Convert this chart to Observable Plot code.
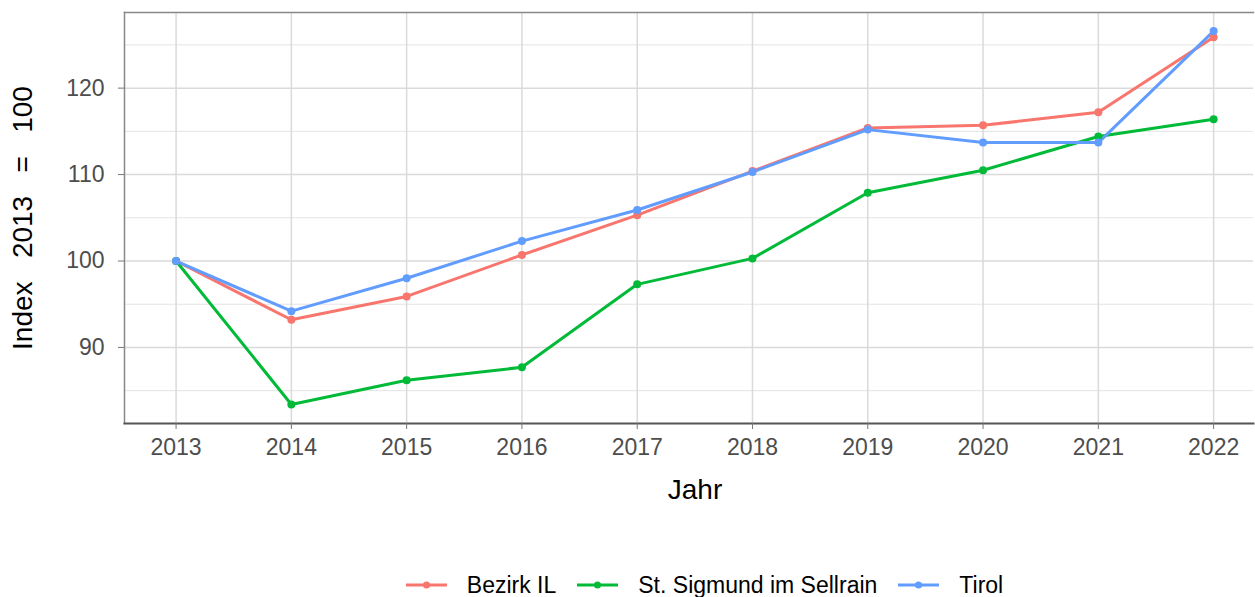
<!DOCTYPE html>
<html>
<head>
<meta charset="utf-8">
<script src="https://cdn.jsdelivr.net/npm/d3@7"></script>
<script src="https://cdn.jsdelivr.net/npm/@observablehq/plot@0.6"></script>
<style>
  html, body { margin: 0; padding: 0; background: white; }
  body { width: 1255px; height: 597px; overflow: hidden; font-family: "Liberation Sans", Arial, sans-serif; }
  #legend { display: flex; justify-content: center; align-items: center; height: 50px; padding-left: 175px; box-sizing: border-box; width: 1255px; }
  .item { display: flex; align-items: center; font-size: 23px; color: #000; }
  .item svg { margin-right: 20px; }
  .item span { margin-right: 21px; }
</style>
</head>
<body>
<div id="chart"></div>
<div id="legend"></div>
<script>
const years = [2013, 2014, 2015, 2016, 2017, 2018, 2019, 2020, 2021, 2022];
const series = ["Bezirk IL", "St. Sigmund im Sellrain", "Tirol"];
const colors = ["#F8766D", "#00BA38", "#619CFF"];
const bezirk  = [100, 93.2, 95.9, 100.7, 105.3, 110.4, 115.4, 115.7, 117.2, 125.9];
const sigmund = [100, 83.4, 86.2, 87.7, 97.3, 100.3, 107.9, 110.5, 114.4, 116.4];
const tirol   = [100, 94.2, 98.0, 102.3, 105.9, 110.3, 115.2, 113.7, 113.7, 126.6];
const yMajor = [90, 100, 110, 120];
const yMinor = [85, 95, 105, 115, 125];
const xTitle = "Jahr";
const yTitle = "Index\u00a0\u00a0 2013\u00a0\u00a0 =\u00a0\u00a0 100";

const values = [bezirk, sigmund, tirol];
const data = series.flatMap((s, k) => years.map((yr, i) => ({year: yr, value: values[k][i], s})));

const chart = Plot.plot({
  width: 1255,
  height: 560,
  marginLeft: 124,
  marginRight: 2,
  marginTop: 12,
  marginBottom: 137,
  style: {fontFamily: "'Liberation Sans', Arial, sans-serif", background: "white"},
  x: {type: "linear", domain: [2012.55, 2022.45], range: [123.7, 1265]},
  y: {domain: [81.2, 128.75]},
  color: {domain: series, range: colors},
  marks: [
    Plot.ruleY(yMinor, {stroke: "#e4e4e4", strokeWidth: 1}),
    Plot.ruleY(yMajor, {stroke: "#dadada", strokeWidth: 1.5}),
    Plot.ruleX(years, {stroke: "#dadada", strokeWidth: 1.5}),
    Plot.frame({anchor: "top", stroke: "#888", strokeWidth: 1.5}),
    Plot.frame({anchor: "left", stroke: "#888", strokeWidth: 1.5}),
    Plot.frame({anchor: "bottom", stroke: "#555", strokeWidth: 2}),
    Plot.axisX({ticks: years, tickFormat: d => String(d), tickSize: 6, tickPadding: 9, fontSize: 23, stroke: "#777", fill: "#4d4d4d", label: null}),
    Plot.axisY({ticks: yMajor, tickSize: 6, tickPadding: 14, fontSize: 23, stroke: "#777", fill: "#4d4d4d", label: null}),
    Plot.line(data, {x: "year", y: "value", z: "s", stroke: "s", strokeWidth: 3}),
    Plot.dot(data, {x: "year", y: "value", fill: "s", r: 4}),
    Plot.text([yTitle], {frameAnchor: "left", textAnchor: "middle", rotate: -90, dx: -101, fontSize: 28, fill: "black"}),
    Plot.text([xTitle], {frameAnchor: "bottom", dy: 75, dx: 6, fontSize: 28, fill: "black"})
  ]
});
document.getElementById("chart").appendChild(chart);

const legend = document.getElementById("legend");
series.forEach((s, k) => {
  const item = document.createElement("div");
  item.className = "item";
  item.innerHTML = `<svg width="41" height="12"><line x1="0" x2="41" y1="6" y2="6" stroke="${colors[k]}" stroke-width="3"/><circle cx="20.5" cy="6" r="3.5" fill="${colors[k]}"/></svg><span></span>`;
  item.querySelector("span").textContent = s;
  legend.appendChild(item);
});
</script>
</body>
</html>
